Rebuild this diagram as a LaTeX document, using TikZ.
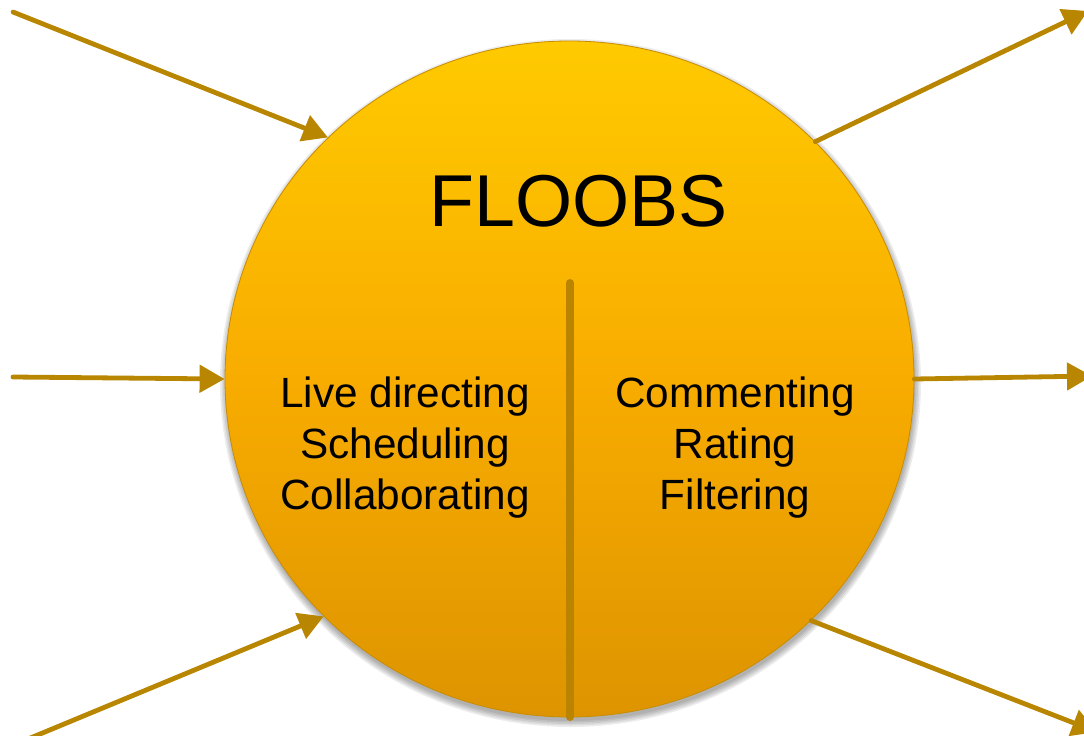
\documentclass[tikz,border=0pt]{standalone}
\usepackage{fontspec}
\setmainfont{Liberation Sans}
\usetikzlibrary{arrows.meta,shapes.geometric}

\definecolor{hubtop}{RGB}{255,202,0}
\definecolor{hubmid}{RGB}{248,172,0}
\definecolor{hubbot}{RGB}{221,148,0}
\definecolor{hubrim}{RGB}{200,140,0}
\definecolor{flow}{RGB}{184,134,0}
\definecolor{divider}{RGB}{186,132,0}

\tikzset{
  hubshape/.style={ellipse, inner sep=0pt, minimum width=689pt, minimum height=676pt,
    top color=hubtop, bottom color=hubbot, middle color=hubmid,
    draw=hubrim, line width=0.8pt},
  softshade/.style={fill=black, fill opacity=0.07, draw=none},
  flowarrow/.style={draw=flow, line width=4.8pt, line cap=round,
    -{Triangle[length=25pt,width=27pt]}},
  title/.style={font=\fontsize{73.5}{88}\selectfont, inner sep=0pt, anchor=base},
  itemlist/.style={font=\fontsize{42.3}{51}\selectfont, align=center, inner sep=0pt, anchor=center}
}

\begin{document}
\begin{tikzpicture}[x=1pt, y=-1pt]
  \useasboundingbox (0,0) rectangle (1084,736);

  % soft shadow under the disc, built from stacked translucent ellipses
  \foreach \r in {0,1.5,3,4.5,6}{
    \fill[softshade] (570.5,383) ellipse ({344.5+\r} and {338+\r});
  }

  % central disc
  \node[hubshape] (hub) at (569.5,379) {};

  % divider between the two halves
  \coordinate (divtop) at (570,283);
  \coordinate (divbot) at (570,717);
  \draw[divider, line width=8pt, line cap=round] (divtop) -- (divbot);

  % texts
  \node[title] (name) at (578.5,226) {FLOOBS};
  \node[itemlist] (left) at (405,448) {Live directing\\Scheduling\\Collaborating};
  \node[itemlist] (right) at (735,448) {Commenting\\Rating\\Filtering};

  % free ends of the arrows
  \coordinate (inA) at (13,12);
  \coordinate (inB) at (13,377);
  \coordinate (inC) at (28,739);
  \coordinate (outA) at (1088,11);
  \coordinate (outB) at (1092,376);
  \coordinate (outC) at (1097,732);

  % incoming arrows
  \draw[flowarrow] (inA) -- (hub.135.5);
  \draw[flowarrow] (inB) -- (hub.180);
  \draw[flowarrow] (inC) -- (hub.224.4);

  % outgoing arrows
  \draw[flowarrow] (hub.44.2) -- (outA);
  \draw[flowarrow] (hub.0) -- (outB);
  \draw[flowarrow] (hub.315.6) -- (outC);
\end{tikzpicture}
\end{document}
